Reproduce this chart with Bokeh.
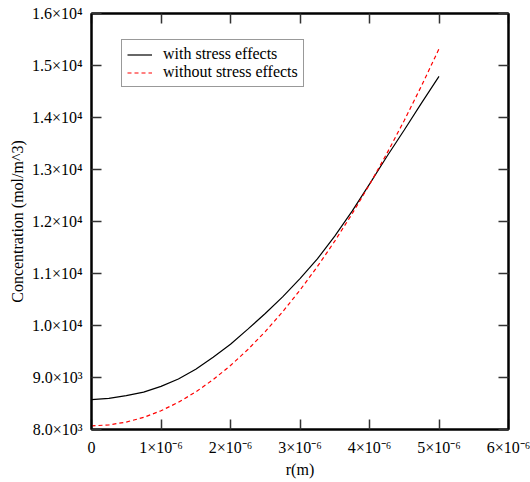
from bokeh.plotting import figure
from bokeh.models import (LinearAxis, FixedTicker, CustomJSTickFormatter, Legend, LegendItem, Range1d)
from bokeh.embed import file_html
from bokeh.resources import INLINE

# radius (m)
r = [0.0, 0.25e-6, 0.5e-6, 0.75e-6, 1.0e-6, 1.25e-6, 1.5e-6, 1.75e-6, 2.0e-6, 2.25e-6,
     2.5e-6, 2.75e-6, 3.0e-6, 3.25e-6, 3.5e-6, 3.75e-6, 4.0e-6, 4.25e-6, 4.5e-6, 4.75e-6, 5.0e-6]
# concentration with stress effects (mol/m^3)
with_stress = [8575, 8600, 8650, 8720, 8830, 8970, 9160, 9390, 9640, 9930,
               10230, 10550, 10900, 11280, 11720, 12200, 12720, 13250, 13760, 14280, 14790]
# concentration without stress effects (mol/m^3)
without_stress = [8070, 8088, 8143, 8233, 8360, 8523, 8723, 8958, 9230, 9538,
                  9883, 10263, 10680, 11133, 11623, 12148, 12710, 13308, 13943, 14613, 15320]

x_ticks = [0, 1e-6, 2e-6, 3e-6, 4e-6, 5e-6, 6e-6]
y_ticks = [8000, 9000, 10000, 11000, 12000, 13000, 14000, 15000, 16000]

FONT = "Liberation Serif"

p = figure(frame_width=417, frame_height=416,
           min_border_left=91, min_border_right=22, min_border_top=13, min_border_bottom=53,
           x_range=Range1d(0, 6e-6), y_range=Range1d(8000, 16000),
           output_backend="svg", toolbar_location=None,
           x_axis_label="r(m)", y_axis_label="Concentration (mol/m^3)")
p.xgrid.visible = False
p.ygrid.visible = False
p.outline_line_color = "black"
p.outline_line_width = 2
p.background_fill_color = "white"
p.border_fill_color = "white"

xfmt = CustomJSTickFormatter(code="""
const n = Math.round(tick*1e6);
return n == 0 ? "0" : n + "\u00d710\u207b\u2076";
""")
yfmt = CustomJSTickFormatter(code="""
const e = Math.floor(Math.log10(tick) + 1e-9);
const m = tick / Math.pow(10, e);
const sup = {3: "\u00b3", 4: "\u2074"};
return m.toFixed(1) + "\u00d710" + sup[e];
""")
blank = CustomJSTickFormatter(code="return '';")

for ax, t, f in ((p.xaxis[0], x_ticks, xfmt), (p.yaxis[0], y_ticks, yfmt)):
    ax.ticker = FixedTicker(ticks=t)
    ax.formatter = f
    ax.major_tick_in = 10
    ax.major_tick_out = 0
    ax.minor_tick_line_color = None
    ax.major_tick_line_width = 1.5
    ax.major_tick_line_color = "#333333"
    ax.axis_line_width = 2
    ax.axis_line_color = "black"
    ax.major_label_text_font = FONT
    ax.major_label_text_font_size = "16px"
    ax.major_label_text_color = "black"
    ax.axis_label_text_font = FONT
    ax.axis_label_text_font_size = "16px"
    ax.axis_label_text_font_style = "normal"
    ax.axis_label_text_color = "black"

p.xaxis[0].major_label_standoff = 9
p.xaxis[0].axis_label_standoff = 2
p.yaxis[0].major_label_standoff = 9
p.yaxis[0].axis_label_standoff = 3

for loc, t in (("right", y_ticks), ("above", x_ticks)):
    ax = LinearAxis(ticker=FixedTicker(ticks=t), formatter=blank)
    ax.major_tick_in = 10
    ax.major_tick_out = 0
    ax.minor_tick_line_color = None
    ax.major_tick_line_width = 1.5
    ax.major_tick_line_color = "#333333"
    ax.axis_line_width = 2
    ax.major_label_standoff = 0
    ax.major_label_text_font_size = "1px"
    p.add_layout(ax, loc)

l1 = p.line(r, with_stress, line_color="black", line_width=1.2)
l2 = p.line(r, without_stress, line_color="red", line_width=1.2, line_dash="4 3")

legend = Legend(items=[LegendItem(label="with stress effects", renderers=[l1]),
                       LegendItem(label="without stress effects", renderers=[l2])],
                location=(30, 342))
legend.label_text_font = FONT
legend.label_text_font_size = "16px"
legend.label_text_color = "black"
legend.label_height = 17
legend.glyph_height = 17
legend.glyph_width = 25
legend.label_standoff = 11
legend.spacing = 0
legend.padding = 5
legend.margin = 0
legend.border_line_color = "#333333"
legend.border_line_width = 1
legend.background_fill_alpha = 1
p.add_layout(legend, "center")

open("out.html", "w").write(file_html(p, INLINE))
